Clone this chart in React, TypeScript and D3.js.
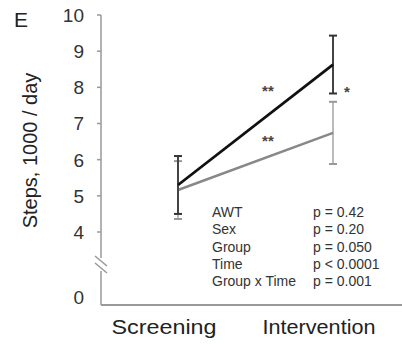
import React from "react";
import * as d3 from "d3";

const timepoints = ["Screening", "Intervention"];
const blackMeans = [5.3, 8.63];
const blackErr = [0.8, 0.8];
const grayMeans = [5.16, 6.74];
const grayErr = [0.8, 0.86];
const yTicks = [4, 5, 6, 7, 8, 9, 10];
const statNames = ["AWT", "Sex", "Group", "Time", "Group x Time"];
const statValues = ["p = 0.42", "p = 0.20", "p = 0.050", "p < 0.0001", "p = 0.001"];
const stars = [
  { at: 0.58, value: 8.02, text: "**" },
  { at: 0.58, value: 6.63, text: "**" },
  { at: 1.09, value: 7.99, text: "*" },
];

const W = 402;
const H = 344;
const font = "'Liberation Sans', Arial, sans-serif";

const App = () => {
  const x = d3.scalePoint().domain(timepoints).range([178, 333]);
  const y = d3.scaleLinear().domain([4, 10]).range([232, 15]);
  const axisX = 101;
  const baseY = 305;
  const zeroY = 297;
  const labelW = [105, 113];

  const line = d3
    .line<number>()
    .x((d, i) => x(timepoints[i]) as number)
    .y((d) => y(d));

  const errBars = (means: number[], errs: number[], color: string, capColor: string) =>
    means.map((m, i) => {
      const cx = x(timepoints[i]) as number;
      return (
        <g key={i}>
          <line x1={cx} x2={cx} y1={y(m - errs[i])} y2={y(m + errs[i])} stroke={color} strokeWidth={2} />
          {[m - errs[i], m + errs[i]].map((v, j) => (
            <line key={j} x1={cx - 4} x2={cx + 4} y1={y(v)} y2={y(v)} stroke={capColor} strokeWidth={2} />
          ))}
        </g>
      );
    });

  const sx = (t: number) => {
    const a = x(timepoints[0]) as number;
    const b = x(timepoints[1]) as number;
    return a + (b - a) * t;
  };

  return (
    <svg width={W} height={H} style={{ position: "absolute", left: 0, top: 0 }} fontFamily={font}>
      <rect width={W} height={H} fill="#fff" />
      <text x={14} y={27} fontSize={21} fill="#222">E</text>

      {/* y axis with break */}
      <line x1={axisX} x2={axisX} y1={y(10)} y2={258} stroke="#999" strokeWidth={1.5} />
      <line x1={axisX} x2={axisX} y1={271} y2={baseY} stroke="#999" strokeWidth={1.5} />
      <line x1={95} x2={107} y1={256} y2={266} stroke="#999" strokeWidth={1.5} />
      <line x1={95} x2={107} y1={263} y2={273} stroke="#999" strokeWidth={1.5} />
      {yTicks.map((t) => (
        <g key={t}>
          <line x1={axisX - 4} x2={axisX} y1={y(t)} y2={y(t)} stroke="#999" strokeWidth={1.5} />
          <text x={84} y={y(t)} dy="0.36em" textAnchor="end" fontSize={19} fill="#333">
            {t}
          </text>
        </g>
      ))}
      <text x={84} y={zeroY} dy="0.36em" textAnchor="end" fontSize={19} fill="#333">0</text>

      {/* x axis */}
      <line x1={axisX} x2={W} y1={baseY} y2={baseY} stroke="#999" strokeWidth={2} />
      {timepoints.map((t, i) => (
        <text
          key={t}
          x={(x(t) as number) - 14 - labelW[i] / 2}
          y={334}
          fontSize={20}
          fill="#222"
          textLength={labelW[i]}
          lengthAdjust="spacingAndGlyphs"
        >
          {t}
        </text>
      ))}

      <text
        transform={`translate(37, ${(68 + 233) / 2}) rotate(-90)`}
        textAnchor="middle"
        fontSize={20}
        fill="#222"
      >
        Steps, 1000 / day
      </text>

      {/* gray series */}
      {errBars(grayMeans, grayErr, "#bbb", "#999")}
      <path d={line(grayMeans) as string} fill="none" stroke="#888" strokeWidth={2.5} />

      {/* black series */}
      {errBars(blackMeans, blackErr, "#444", "#333")}
      <path d={line(blackMeans) as string} fill="none" stroke="#111" strokeWidth={2.8} />

      {stars.map((s, i) => (
        <text key={i} x={sx(s.at)} y={y(s.value)} dy="0.6em" textAnchor="middle" fontSize={15} fontWeight="bold" fill="#444">
          {s.text}
        </text>
      ))}

      {/* stats */}
      {statNames.map((n, i) => (
        <g key={n}>
          <text x={212} y={217 + i * 17.3} fontSize={14} fill="#333">{n}</text>
          <text x={313} y={217 + i * 17.3} fontSize={14} fill="#333">{statValues[i]}</text>
        </g>
      ))}
    </svg>
  );
};

export default App;
